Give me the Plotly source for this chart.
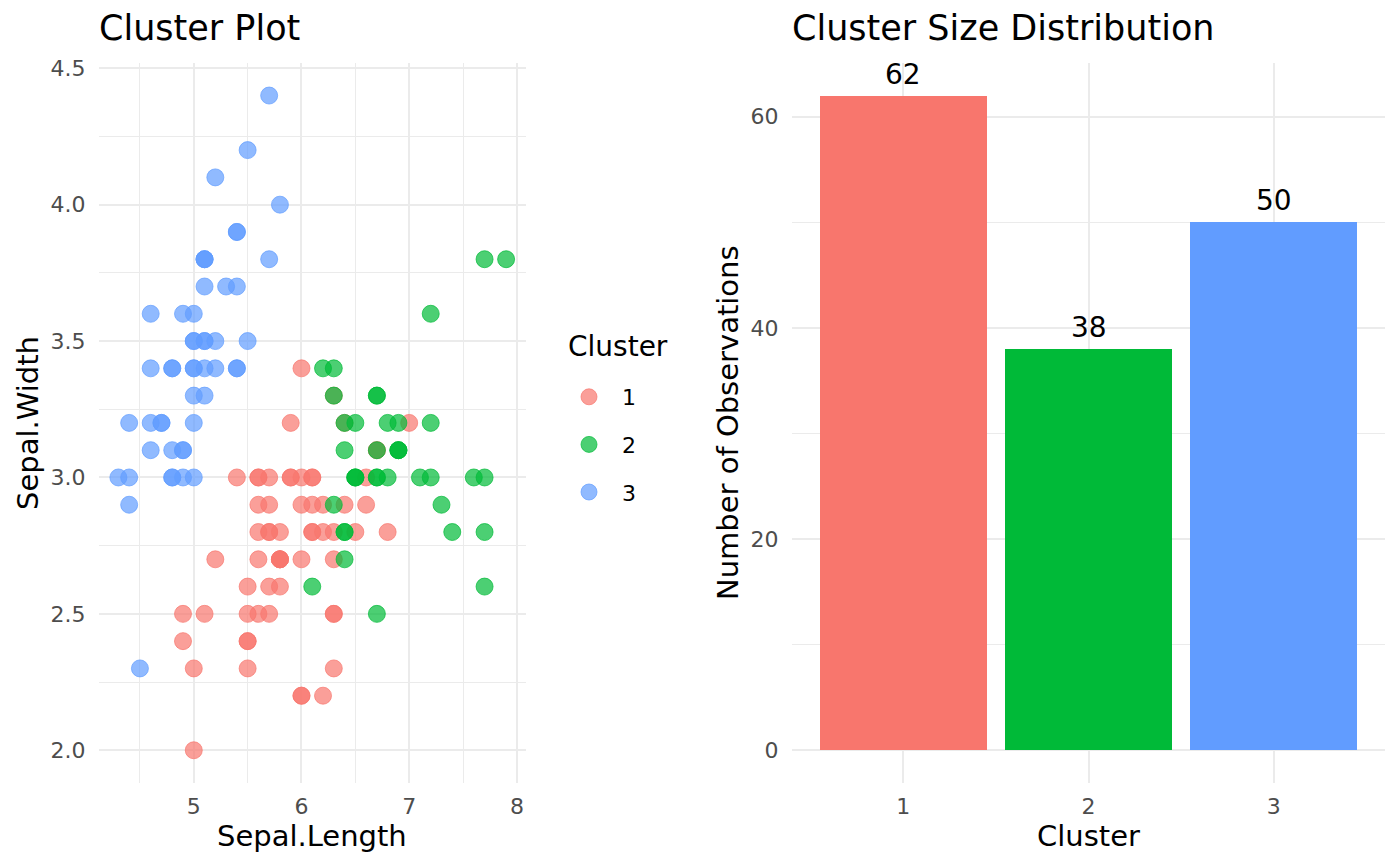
import plotly.graph_objects as go

# iris sepal measurements, one entry per flower
sepal_length = [
    5.1, 4.9, 4.7, 4.6, 5.0, 5.4, 4.6, 5.0, 4.4, 4.9, 5.4, 4.8, 4.8, 4.3, 5.8, 5.7, 5.4, 5.1, 5.7, 5.1,
    5.4, 5.1, 4.6, 5.1, 4.8, 5.0, 5.0, 5.2, 5.2, 4.7, 4.8, 5.4, 5.2, 5.5, 4.9, 5.0, 5.5, 4.9, 4.4, 5.1,
    5.0, 4.5, 4.4, 5.0, 5.1, 4.8, 5.1, 4.6, 5.3, 5.0,
    7.0, 6.4, 6.9, 5.5, 6.5, 5.7, 6.3, 4.9, 6.6, 5.2, 5.0, 5.9, 6.0, 6.1, 5.6, 6.7, 5.6, 5.8, 6.2, 5.6,
    5.9, 6.1, 6.3, 6.1, 6.4, 6.6, 6.8, 6.7, 6.0, 5.7, 5.5, 5.5, 5.8, 6.0, 5.4, 6.0, 6.7, 6.3, 5.6, 5.5,
    5.5, 6.1, 5.8, 5.0, 5.6, 5.7, 5.7, 6.2, 5.1, 5.7,
    6.3, 5.8, 7.1, 6.3, 6.5, 7.6, 4.9, 7.3, 6.7, 7.2, 6.5, 6.4, 6.8, 5.7, 5.8, 6.4, 6.5, 7.7, 7.7, 6.0,
    6.9, 5.6, 7.7, 6.3, 6.7, 7.2, 6.2, 6.1, 6.4, 7.2, 7.4, 7.9, 6.4, 6.3, 6.1, 7.7, 6.3, 6.4, 6.0, 6.9,
    6.7, 6.9, 5.8, 6.8, 6.7, 6.7, 6.3, 6.5, 6.2, 5.9,
]
sepal_width = [
    3.5, 3.0, 3.2, 3.1, 3.6, 3.9, 3.4, 3.4, 2.9, 3.1, 3.7, 3.4, 3.0, 3.0, 4.0, 4.4, 3.9, 3.5, 3.8, 3.8,
    3.4, 3.7, 3.6, 3.3, 3.4, 3.0, 3.4, 3.5, 3.4, 3.2, 3.1, 3.4, 4.1, 4.2, 3.1, 3.2, 3.5, 3.6, 3.0, 3.4,
    3.5, 2.3, 3.2, 3.5, 3.8, 3.0, 3.8, 3.2, 3.7, 3.3,
    3.2, 3.2, 3.1, 2.3, 2.8, 2.8, 3.3, 2.4, 2.9, 2.7, 2.0, 3.0, 2.2, 2.9, 2.9, 3.1, 3.0, 2.7, 2.2, 2.5,
    3.2, 2.8, 2.5, 2.8, 2.9, 3.0, 2.8, 3.0, 2.9, 2.6, 2.4, 2.4, 2.7, 2.7, 3.0, 3.4, 3.1, 2.3, 3.0, 2.5,
    2.6, 3.0, 2.6, 2.3, 2.7, 3.0, 2.9, 2.9, 2.5, 2.8,
    3.3, 2.7, 3.0, 2.9, 3.0, 3.0, 2.5, 2.9, 2.5, 3.6, 3.2, 2.7, 3.0, 2.5, 2.8, 3.2, 3.0, 3.8, 2.6, 2.2,
    3.2, 2.8, 2.8, 2.7, 3.3, 3.2, 2.8, 3.0, 2.8, 3.0, 2.8, 3.8, 2.8, 2.8, 2.6, 3.0, 3.4, 3.1, 3.0, 3.1,
    3.1, 3.1, 2.7, 3.2, 3.3, 3.0, 2.5, 3.0, 3.4, 3.0,
]
cluster = [int(c) for c in (
    "33333333333333333333333333333333333333333333333333"
    "11211111111111111111111111121111111111111111111111"
    "21222212222221122221212122112222212222122212221221"
)]

cluster_ids = [1, 2, 3]
cluster_counts = [62, 38, 50]
cluster_colors = ["#F8766D", "#00BA38", "#619CFF"]

FONT = "DejaVu Sans"
GRID = "#EBEBEB"
W, H = 1400, 866


def rgba(hex_color, alpha):
    h = hex_color.lstrip("#")
    r, g, b = int(h[0:2], 16), int(h[2:4], 16), int(h[4:6], 16)
    return "rgba(%d,%d,%d,%s)" % (r, g, b, alpha)


def px_x(p):
    return p / W


def px_y(p):
    return 1 - p / H


fig = go.Figure()

# scatter panel, one trace per cluster so the legend matches
for cid, col in zip(cluster_ids, cluster_colors):
    xs = [x for x, c in zip(sepal_length, cluster) if c == cid]
    ys = [y for y, c in zip(sepal_width, cluster) if c == cid]
    fig.add_trace(go.Scatter(
        x=xs, y=ys, mode="markers", name=str(cid), legendgroup=str(cid),
        marker=dict(size=17, color=rgba(col, 0.7), line=dict(color=rgba(col, 0.7), width=1)),
        xaxis="x", yaxis="y"))

# bar panel
fig.add_trace(go.Bar(
    x=cluster_ids, y=cluster_counts, width=0.9, showlegend=False,
    marker=dict(color=cluster_colors, line=dict(width=0)),
    xaxis="x2", yaxis="y2"))

tickfont = dict(family=FONT, size=22, color="#4D4D4D")
ydom = [px_y(783), px_y(62.8)]
common = dict(showgrid=True, gridcolor=GRID, gridwidth=2.4, zeroline=False, showline=False,
              tickfont=tickfont, tickcolor="rgba(0,0,0,0)", ticks="outside", automargin=False)

fig.update_layout(
    width=W, height=H,
    paper_bgcolor="white", plot_bgcolor="white",
    margin=dict(l=0, r=0, t=0, b=0),
    font=dict(family=FONT, color="black"),
    xaxis=dict(domain=[px_x(99), px_x(525.5)], range=[4.12, 8.08], tickvals=[5, 6, 7, 8],
               ticklen=4, anchor="y",
               minor=dict(tickvals=[4.5, 5.5, 6.5, 7.5], showgrid=True, gridcolor=GRID, gridwidth=1.3),
               **common),
    yaxis=dict(domain=ydom, range=[1.88, 4.52], tickvals=[2.0, 2.5, 3.0, 3.5, 4.0, 4.5],
               tickformat=".1f", ticklen=8, anchor="x",
               minor=dict(tickvals=[2.25, 2.75, 3.25, 3.75, 4.25], showgrid=True, gridcolor=GRID,
                          gridwidth=1.3),
               **common),
    xaxis2=dict(domain=[px_x(792), px_x(1385)], range=[0.4, 3.6], tickvals=cluster_ids,
                ticklen=4, anchor="y2", **common),
    yaxis2=dict(domain=ydom, range=[-3.1, 65.1], tickvals=[0, 20, 40, 60], ticklen=8, anchor="x2",
                minor=dict(tickvals=[10, 30, 50], showgrid=True, gridcolor=GRID, gridwidth=1.3),
                **common),
    legend=dict(x=px_x(556), xanchor="left", y=px_y(376), yanchor="top",
                font=dict(family=FONT, size=22, color="black"),
                traceorder="grouped", tracegroupgap=16, itemwidth=56,
                bgcolor="rgba(0,0,0,0)"),
    bargap=0,
)

annotations = [
    dict(text="Cluster Plot", x=px_x(97), y=px_y(50), xanchor="left", yanchor="bottom",
         font=dict(size=35)),
    dict(text="Cluster Size Distribution", x=px_x(790), y=px_y(50), xanchor="left",
         yanchor="bottom", font=dict(size=35)),
    dict(text="Sepal.Length", x=px_x(312), y=px_y(836), xanchor="center", yanchor="middle",
         font=dict(size=29)),
    dict(text="Cluster", x=px_x(1088), y=px_y(836), xanchor="center", yanchor="middle",
         font=dict(size=29)),
    dict(text="Sepal.Width", x=px_x(28), y=px_y(423), xanchor="center", yanchor="middle",
         textangle=-90, font=dict(size=29)),
    dict(text="Number of Observations", x=px_x(728), y=px_y(423), xanchor="center",
         yanchor="middle", textangle=-90, font=dict(size=29)),
    # legend title
    dict(text="Cluster", x=px_x(566), y=px_y(347), xanchor="left", yanchor="middle",
         font=dict(size=28)),
]
for a in annotations:
    a.update(xref="paper", yref="paper", showarrow=False)
    a["font"].update(family=FONT, color="black")

# count labels above bars
for cid, cnt in zip(cluster_ids, cluster_counts):
    annotations.append(dict(text=str(cnt), x=cid, y=cnt, xref="x2", yref="y2", showarrow=False,
                            xanchor="center", yanchor="bottom", yshift=3,
                            font=dict(family=FONT, size=28, color="black")))

fig.update_layout(annotations=annotations)

# drop the page's default body margin so the figure sits at the window corner
fig.write_html("out.html", config={"displayModeBar": False},
               post_script="document.body.style.margin = '0';")
